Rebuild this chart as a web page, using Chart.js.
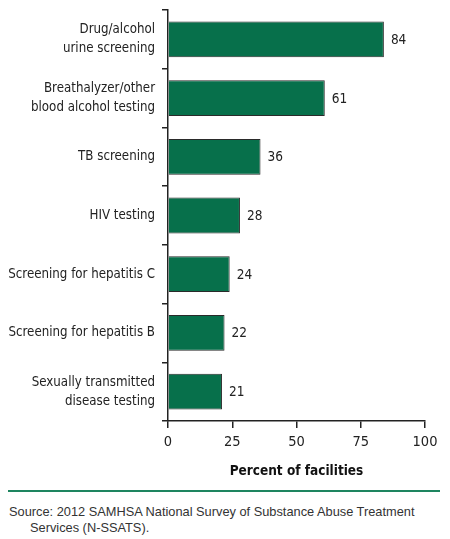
<!DOCTYPE html>
<html>
<head>
<meta charset="utf-8">
<script src="https://cdn.jsdelivr.net/npm/chart.js@4/dist/chart.umd.min.js"></script>
<style>
  html, body { margin: 0; padding: 0; background: #fff; }
  body { width: 450px; height: 539px; position: relative; overflow: hidden; }
  #wrap { position: absolute; left: 0; top: 0; width: 450px; height: 480px; }
  #rule { position: absolute; left: 8px; top: 490px; width: 432px; height: 2px; background: #1e8560; }
  #source {
    position: absolute; left: 9px; top: 504px;
    font-family: "Liberation Sans", Arial, sans-serif; font-size: 12.8px; line-height: 16px; color: #333;
    white-space: nowrap;
  }
  #source span { padding-left: 21px; }
</style>
</head>
<body>
<div id="wrap"><canvas id="chart"></canvas></div>
<div id="rule"></div>
<div id="source">Source: 2012 SAMHSA National Survey of Substance Abuse Treatment<br><span>Services (N-SSATS).</span></div>
<script>
const categories = [
  ["Drug/alcohol", "urine screening"],
  ["Breathalyzer/other", "blood alcohol testing"],
  "TB screening",
  "HIV testing",
  "Screening for hepatitis C",
  "Screening for hepatitis B",
  ["Sexually transmitted", "disease testing"]
];
const percentValues = [84, 61, 36, 28, 24, 22, 21];
const xTicks = [0, 25, 50, 75, 100];

const FONT = "'DejaVu Sans Condensed', 'Liberation Sans', Arial, sans-serif";

// value labels at the end of each bar
const valueLabels = {
  id: "valueLabels",
  afterDatasetsDraw(chart) {
    const ctx = chart.ctx;
    const meta = chart.getDatasetMeta(0);
    ctx.save();
    ctx.font = "13.5px " + FONT;
    ctx.fillStyle = "#222";
    ctx.textAlign = "left";
    ctx.textBaseline = "middle";
    meta.data.forEach((bar, i) => {
      ctx.fillText(String(percentValues[i]), bar.x + 7, bar.y + 1);
    });
    ctx.restore();
  }
};

new Chart(document.getElementById("chart"), {
  type: "bar",
  data: {
    labels: categories,
    datasets: [{
      data: percentValues,
      backgroundColor: "#07704b",
      borderColor: "#2a2a2a",
      borderWidth: 1,
      borderSkipped: "left",
      categoryPercentage: 0.61,
      barPercentage: 1
    }]
  },
  options: {
    indexAxis: "y",
    responsive: true,
    maintainAspectRatio: false,
    animation: false,
    layout: { padding: { top: 10, right: 25, left: 0, bottom: 0 } },
    plugins: { legend: { display: false }, tooltip: { enabled: false } },
    scales: {
      y: {
        afterFit(axis) {
          axis.width = 168;
          axis.paddingTop = 0;
          axis.paddingBottom = 0;
        },
        grid: { display: true, drawOnChartArea: false, offset: true, tickLength: 6, color: "#222", lineWidth: 1.5 },
        border: { color: "#222", width: 1.5 },
        ticks: {
          color: "#222",
          padding: 7,
          font: { family: FONT, size: 13.2, lineHeight: 1.44 }
        }
      },
      x: {
        min: 0,
        max: 100,
        afterFit(axis) { axis.height = 59; },
        afterBuildTicks(axis) { axis.ticks = xTicks.map(v => ({ value: v })); },
        grid: { display: true, drawOnChartArea: false, tickLength: 7, color: "#222", lineWidth: 1.5 },
        border: { color: "#222", width: 1.5 },
        ticks: {
          color: "#222",
          padding: 6,
          font: { family: FONT, size: 14.5 }
        },
        title: {
          display: true,
          text: "Percent of facilities",
          color: "#111",
          padding: { top: 0, bottom: 0 },
          font: { family: FONT, size: 13.5, weight: "bold" }
        }
      }
    }
  },
  plugins: [valueLabels]
});
</script>
</body>
</html>
